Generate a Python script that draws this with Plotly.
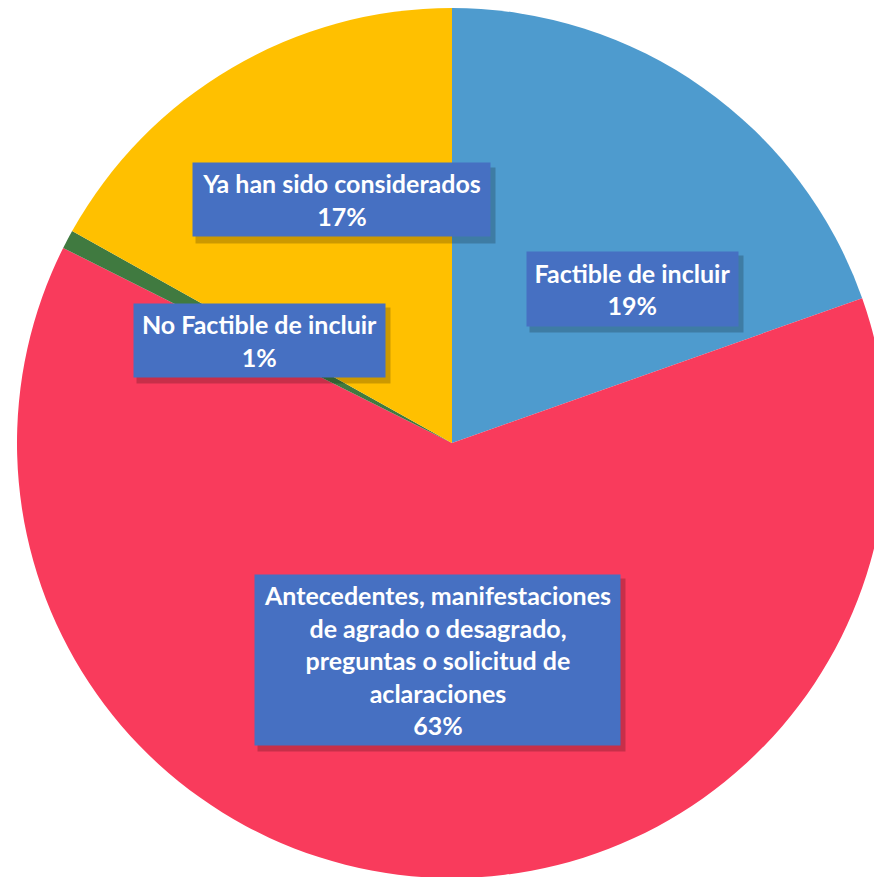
import plotly.graph_objects as go

categories = ["Factible de incluir",
              "Antecedentes, manifestaciones<br>de agrado o desagrado,<br>preguntas o solicitud de<br>aclaraciones",
              "No Factible de incluir",
              "Ya han sido considerados"]
values = [19.6, 62.8, 0.7, 16.9]
pct_labels = ["19%", "63%", "1%", "17%"]
colors = ["#4E9BCE", "#F93B5C", "#407A40", "#FFC000"]

W, H = 900, 886
cx, cy, R = 452, 443, 435

fig = go.Figure(go.Pie(
    labels=categories, values=values, sort=False, direction="clockwise",
    rotation=0, textinfo="none", hoverinfo="label+percent",
    marker=dict(colors=colors, line=dict(width=0)),
    domain=dict(x=[(cx - R) / W, (cx + R) / W], y=[1 - (cy + R) / H, 1 - (cy - R) / H]),
    showlegend=False,
))

# label box positions (pixel centers) and sizes
boxes = [
    (632, 289, 211, 74),
    (437, 660, 365, 170),
    (259, 341, 251, 73),
    (341, 200, 297, 73),
]
anns = []
for (x, y, w, h), cat, p in zip(boxes, categories, pct_labels):
    anns.append(dict(x=(x + 4) / W, y=1 - (y + 5) / H, xref="paper", yref="paper",
                     xanchor="center", yanchor="middle",
                     text="", showarrow=False, width=w + 2, height=h + 2,
                     bgcolor="rgba(0,0,0,0.2)", borderpad=0))
for (x, y, w, h), cat, p in zip(boxes, categories, pct_labels):
    anns.append(dict(x=x / W, y=1 - y / H, xref="paper", yref="paper",
                     xanchor="center", yanchor="middle",
                     text="<b>" + cat.replace("<br>", "</b><br><b>") + "<br>" + p + "</b>",
                     showarrow=False, width=w, height=h, align="center", valign="middle",
                     bgcolor="#4670C2", borderpad=0,
                     font=dict(family="Lato, Open Sans, sans-serif", size=25, color="white")))

fig.update_layout(width=W, height=H, margin=dict(l=0, r=0, t=0, b=0),
                  paper_bgcolor="white", plot_bgcolor="white", annotations=anns)

fig.write_html("out.html", config={"displayModeBar": False},
               post_script="document.body.style.margin='0';document.body.style.overflow='hidden';")
